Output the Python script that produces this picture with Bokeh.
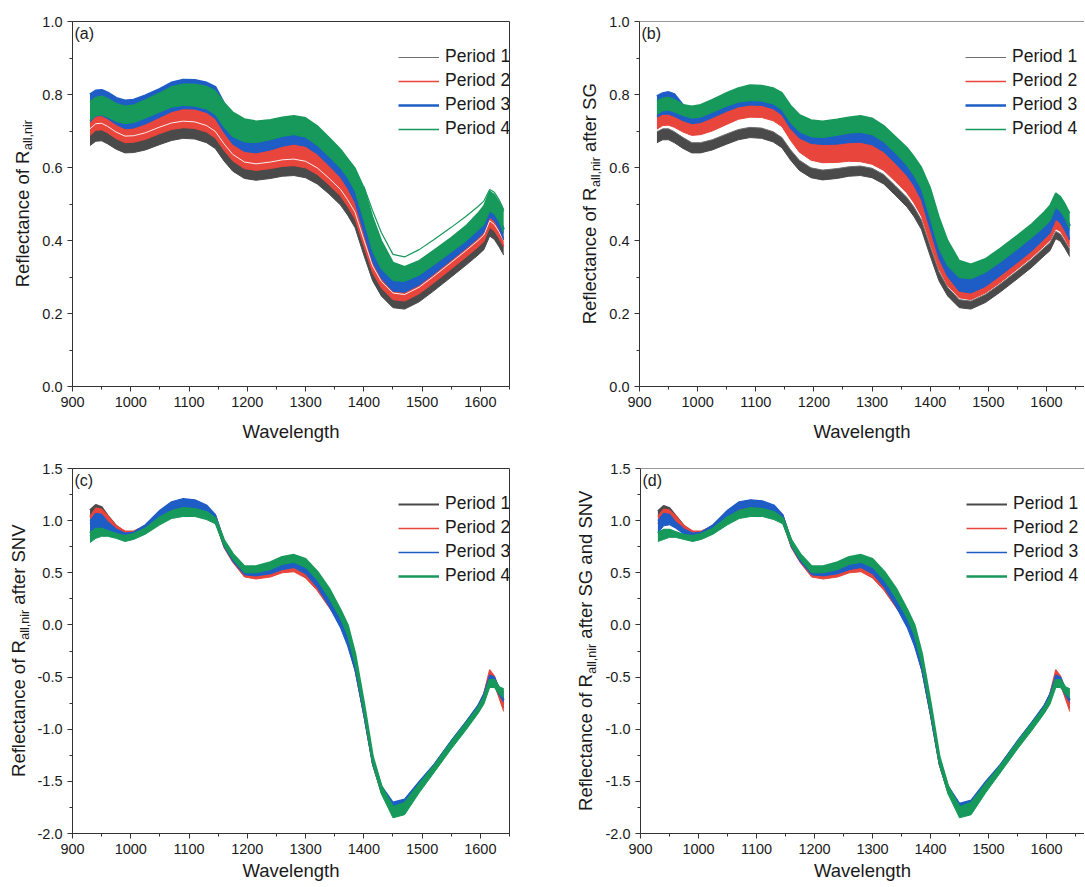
import math
from bokeh.plotting import figure
from bokeh.layouts import row, column
from bokeh.models import Label, Legend, LegendItem, Span, NumeralTickFormatter, FixedTicker, Range1d
from bokeh.embed import file_html
from bokeh.resources import INLINE

# ---------------- data ----------------
WAVE = [930, 940, 950, 960, 975, 990, 1005, 1025, 1050, 1070, 1090, 1110, 1130, 1145, 1160,
        1175, 1195, 1215, 1240, 1260, 1280, 1300, 1320, 1340, 1360, 1372, 1385, 1400, 1415, 1430,
        1450, 1470, 1495, 1520, 1550, 1575, 1596, 1606, 1616, 1624, 1632, 1640]
PERIODS = ["Period 1", "Period 2", "Period 3", "Period 4"]

# (a) raw reflectance, band lower / upper edges per period
A1_LO = [0.660, 0.672, 0.673, 0.665, 0.650, 0.640, 0.641, 0.648, 0.663, 0.674, 0.680, 0.678, 0.668, 0.652, 0.618,
         0.590, 0.570, 0.565, 0.570, 0.576, 0.578, 0.572, 0.555, 0.528, 0.497, 0.470, 0.435, 0.360, 0.290, 0.248,
         0.216, 0.212, 0.232, 0.262, 0.300, 0.332, 0.360, 0.375, 0.412, 0.403, 0.383, 0.360]
A1_HI = [0.692, 0.706, 0.707, 0.699, 0.683, 0.672, 0.673, 0.681, 0.697, 0.708, 0.713, 0.711, 0.701, 0.685, 0.651,
         0.622, 0.601, 0.596, 0.601, 0.607, 0.609, 0.603, 0.585, 0.557, 0.526, 0.498, 0.463, 0.388, 0.316, 0.274,
         0.242, 0.238, 0.258, 0.288, 0.326, 0.358, 0.386, 0.401, 0.440, 0.430, 0.410, 0.386]
A2_LO = [0.688, 0.702, 0.703, 0.695, 0.679, 0.668, 0.669, 0.677, 0.693, 0.704, 0.709, 0.707, 0.697, 0.681, 0.647,
         0.618, 0.597, 0.592, 0.597, 0.603, 0.605, 0.599, 0.581, 0.553, 0.522, 0.494, 0.459, 0.384, 0.312, 0.270,
         0.238, 0.234, 0.254, 0.284, 0.322, 0.354, 0.382, 0.397, 0.436, 0.426, 0.406, 0.382]
A2_HI = [0.728, 0.745, 0.746, 0.738, 0.722, 0.710, 0.712, 0.723, 0.742, 0.757, 0.765, 0.764, 0.755, 0.738, 0.700,
         0.668, 0.648, 0.644, 0.652, 0.662, 0.668, 0.662, 0.641, 0.610, 0.577, 0.548, 0.508, 0.425, 0.345, 0.300,
         0.265, 0.262, 0.282, 0.312, 0.350, 0.382, 0.410, 0.426, 0.468, 0.458, 0.436, 0.405]
# a white gap between individual spectra inside the Period 2 band of (a)
A2_GAP = [0.706, 0.720, 0.721, 0.713, 0.697, 0.686, 0.687, 0.695, 0.711, 0.722, 0.727, 0.725, 0.715, 0.699, 0.665,
          0.636, 0.615, 0.610, 0.615, 0.621, 0.623, 0.617, 0.599, 0.571, 0.540, 0.512, 0.477, 0.402, 0.330, 0.288,
          0.256, 0.252, 0.272, 0.302, 0.340, 0.372, 0.400, 0.415, 0.454, 0.444, 0.424, 0.400]
A3_LO = [0.724, 0.741, 0.742, 0.734, 0.718, 0.706, 0.708, 0.719, 0.738, 0.753, 0.761, 0.760, 0.751, 0.734, 0.696,
         0.664, 0.644, 0.640, 0.648, 0.658, 0.664, 0.658, 0.637, 0.606, 0.573, 0.544, 0.504, 0.421, 0.341, 0.296,
         0.261, 0.258, 0.278, 0.308, 0.346, 0.378, 0.406, 0.422, 0.464, 0.454, 0.432, 0.401]
A3_HI = [0.800, 0.810, 0.812, 0.805, 0.790, 0.783, 0.785, 0.797, 0.815, 0.832, 0.840, 0.839, 0.832, 0.820, 0.775,
         0.735, 0.710, 0.702, 0.706, 0.712, 0.716, 0.708, 0.688, 0.655, 0.622, 0.595, 0.555, 0.465, 0.380, 0.330,
         0.295, 0.292, 0.310, 0.340, 0.378, 0.410, 0.440, 0.455, 0.490, 0.482, 0.462, 0.430]
A4_LO = [0.728, 0.742, 0.744, 0.738, 0.726, 0.720, 0.723, 0.735, 0.752, 0.765, 0.770, 0.768, 0.760, 0.745, 0.710,
         0.684, 0.670, 0.668, 0.676, 0.685, 0.690, 0.683, 0.660, 0.630, 0.598, 0.572, 0.535, 0.455, 0.370, 0.322,
         0.290, 0.288, 0.305, 0.333, 0.368, 0.398, 0.428, 0.443, 0.480, 0.472, 0.452, 0.420]
A4_HI = [0.780, 0.792, 0.795, 0.789, 0.775, 0.768, 0.771, 0.785, 0.804, 0.821, 0.828, 0.828, 0.822, 0.810, 0.778,
         0.752, 0.733, 0.727, 0.731, 0.738, 0.742, 0.736, 0.714, 0.683, 0.650, 0.625, 0.598, 0.545, 0.465, 0.400,
         0.340, 0.328, 0.345, 0.373, 0.408, 0.440, 0.475, 0.495, 0.535, 0.525, 0.505, 0.480]
A4_OUT_WAVE = [1400, 1415, 1430, 1450, 1470, 1495, 1520, 1550, 1575, 1596, 1606, 1616, 1624, 1632, 1640]
A4_OUT = [0.548, 0.482, 0.422, 0.362, 0.355, 0.375, 0.402, 0.436, 0.466, 0.493, 0.508, 0.540, 0.532, 0.512, 0.485]

# (b) after SG
B1_LO = [0.668, 0.676, 0.676, 0.668, 0.652, 0.640, 0.640, 0.648, 0.664, 0.676, 0.682, 0.680, 0.670, 0.654, 0.620,
         0.592, 0.572, 0.566, 0.570, 0.576, 0.578, 0.572, 0.555, 0.524, 0.492, 0.466, 0.430, 0.358, 0.290, 0.248,
         0.216, 0.212, 0.230, 0.258, 0.295, 0.327, 0.358, 0.372, 0.405, 0.398, 0.378, 0.356]
B1_HI = [0.698, 0.706, 0.706, 0.698, 0.682, 0.668, 0.668, 0.676, 0.692, 0.704, 0.710, 0.708, 0.698, 0.682, 0.648,
         0.620, 0.599, 0.593, 0.597, 0.602, 0.604, 0.598, 0.581, 0.550, 0.518, 0.492, 0.456, 0.384, 0.315, 0.272,
         0.238, 0.234, 0.252, 0.280, 0.317, 0.349, 0.380, 0.394, 0.425, 0.418, 0.398, 0.376]
B2_LO = [0.705, 0.715, 0.716, 0.710, 0.697, 0.688, 0.690, 0.700, 0.718, 0.732, 0.738, 0.737, 0.728, 0.712, 0.674,
         0.642, 0.620, 0.613, 0.614, 0.617, 0.616, 0.609, 0.592, 0.562, 0.530, 0.503, 0.466, 0.392, 0.322, 0.277,
         0.243, 0.238, 0.256, 0.284, 0.322, 0.354, 0.385, 0.400, 0.432, 0.425, 0.404, 0.381]
B2_HI = [0.742, 0.750, 0.750, 0.744, 0.732, 0.724, 0.727, 0.740, 0.758, 0.770, 0.775, 0.774, 0.765, 0.748, 0.710,
         0.685, 0.670, 0.667, 0.668, 0.672, 0.673, 0.666, 0.647, 0.616, 0.582, 0.555, 0.515, 0.435, 0.355, 0.305,
         0.265, 0.260, 0.278, 0.307, 0.344, 0.376, 0.408, 0.424, 0.462, 0.452, 0.430, 0.405]
B3_LO = [0.738, 0.746, 0.746, 0.740, 0.728, 0.720, 0.723, 0.736, 0.754, 0.766, 0.771, 0.770, 0.761, 0.744, 0.706,
         0.681, 0.666, 0.663, 0.664, 0.668, 0.669, 0.662, 0.643, 0.612, 0.578, 0.551, 0.511, 0.431, 0.351, 0.301,
         0.261, 0.256, 0.274, 0.303, 0.340, 0.372, 0.404, 0.420, 0.458, 0.448, 0.426, 0.401]
B3_HI = [0.795, 0.803, 0.806, 0.800, 0.770, 0.762, 0.765, 0.778, 0.795, 0.806, 0.812, 0.810, 0.802, 0.788, 0.760,
         0.730, 0.712, 0.708, 0.712, 0.718, 0.722, 0.715, 0.695, 0.662, 0.628, 0.600, 0.560, 0.475, 0.390, 0.340,
         0.305, 0.300, 0.318, 0.348, 0.385, 0.418, 0.448, 0.465, 0.500, 0.490, 0.470, 0.440]
B4_LO = [0.745, 0.755, 0.757, 0.752, 0.742, 0.735, 0.738, 0.751, 0.768, 0.779, 0.783, 0.782, 0.774, 0.758, 0.722,
         0.698, 0.684, 0.682, 0.688, 0.694, 0.696, 0.690, 0.670, 0.640, 0.605, 0.578, 0.540, 0.460, 0.378, 0.330,
         0.298, 0.295, 0.312, 0.340, 0.376, 0.408, 0.437, 0.453, 0.490, 0.480, 0.460, 0.430]
B4_HI = [0.782, 0.790, 0.792, 0.786, 0.772, 0.768, 0.772, 0.786, 0.805, 0.818, 0.826, 0.825, 0.818, 0.805, 0.770,
         0.745, 0.730, 0.727, 0.732, 0.738, 0.742, 0.735, 0.715, 0.685, 0.655, 0.630, 0.600, 0.545, 0.465, 0.400,
         0.345, 0.335, 0.350, 0.378, 0.414, 0.446, 0.478, 0.496, 0.530, 0.520, 0.500, 0.475]

# (c) after SNV
C1_LO = [1.04, 1.10, 1.07, 0.99, 0.90, 0.86, 0.86, 0.91, 1.00, 1.06, 1.09, 1.08, 1.04, 0.99, 0.75,
         0.61, 0.47, 0.45, 0.47, 0.51, 0.52, 0.46, 0.34, 0.18, 0.02, -0.17, -0.43, -0.87, -1.34, -1.61,
         -1.79, -1.76, -1.58, -1.40, -1.17, -0.99, -0.83, -0.73, -0.54, -0.58, -0.69, -0.80]
C1_HI = [1.10, 1.15, 1.13, 1.05, 0.95, 0.89, 0.89, 0.95, 1.06, 1.13, 1.17, 1.16, 1.11, 1.05, 0.80,
         0.66, 0.52, 0.49, 0.52, 0.56, 0.57, 0.52, 0.41, 0.26, 0.09, -0.08, -0.34, -0.79, -1.28, -1.55,
         -1.73, -1.70, -1.52, -1.35, -1.12, -0.94, -0.78, -0.67, -0.48, -0.51, -0.62, -0.72]
C2_LO = [0.97, 1.05, 1.05, 0.99, 0.90, 0.86, 0.86, 0.91, 1.00, 1.06, 1.09, 1.08, 1.04, 0.99, 0.74,
         0.60, 0.46, 0.44, 0.46, 0.50, 0.51, 0.45, 0.33, 0.17, 0.01, -0.18, -0.44, -0.87, -1.34, -1.61,
         -1.79, -1.76, -1.58, -1.40, -1.17, -0.99, -0.84, -0.72, -0.50, -0.56, -0.70, -0.83]
C2_HI = [1.04, 1.12, 1.11, 1.05, 0.95, 0.90, 0.90, 0.95, 1.07, 1.14, 1.18, 1.17, 1.12, 1.05, 0.80,
         0.66, 0.52, 0.49, 0.52, 0.55, 0.56, 0.51, 0.40, 0.25, 0.08, -0.08, -0.34, -0.79, -1.28, -1.55,
         -1.73, -1.70, -1.52, -1.35, -1.12, -0.94, -0.79, -0.66, -0.43, -0.49, -0.62, -0.76]
C3_LO = [0.86, 0.92, 0.93, 0.91, 0.86, 0.84, 0.85, 0.91, 1.02, 1.10, 1.12, 1.11, 1.07, 1.00, 0.75,
         0.61, 0.48, 0.47, 0.49, 0.53, 0.55, 0.49, 0.36, 0.18, -0.03, -0.20, -0.44, -0.87, -1.34, -1.60,
         -1.76, -1.73, -1.56, -1.39, -1.16, -0.98, -0.82, -0.72, -0.54, -0.57, -0.67, -0.74]
C3_HI = [1.00, 1.07, 1.06, 0.99, 0.92, 0.88, 0.89, 0.96, 1.10, 1.18, 1.21, 1.20, 1.15, 1.06, 0.81,
         0.67, 0.54, 0.52, 0.55, 0.60, 0.62, 0.58, 0.46, 0.30, 0.10, -0.05, -0.31, -0.77, -1.27, -1.54,
         -1.70, -1.67, -1.50, -1.34, -1.11, -0.93, -0.77, -0.66, -0.48, -0.50, -0.60, -0.64]
C4_LO = [0.79, 0.83, 0.85, 0.85, 0.83, 0.80, 0.82, 0.87, 0.96, 1.02, 1.04, 1.04, 1.01, 0.97, 0.76,
         0.63, 0.50, 0.50, 0.53, 0.58, 0.60, 0.55, 0.43, 0.26, 0.06, -0.10, -0.38, -0.84, -1.33, -1.62,
         -1.85, -1.82, -1.61, -1.42, -1.19, -1.01, -0.85, -0.76, -0.60, -0.60, -0.66, -0.70]
C4_HI = [0.88, 0.92, 0.92, 0.90, 0.87, 0.85, 0.87, 0.92, 1.03, 1.09, 1.12, 1.11, 1.08, 1.02, 0.81,
         0.68, 0.56, 0.56, 0.60, 0.65, 0.67, 0.63, 0.51, 0.35, 0.14, 0.00, -0.28, -0.75, -1.26, -1.55,
         -1.75, -1.71, -1.53, -1.36, -1.13, -0.95, -0.80, -0.70, -0.53, -0.53, -0.60, -0.62]

# (d) after SG and SNV
D1_LO = [1.04, 1.09, 1.07, 0.99, 0.90, 0.86, 0.86, 0.91, 1.00, 1.06, 1.09, 1.08, 1.04, 0.99, 0.75,
         0.61, 0.47, 0.45, 0.47, 0.51, 0.52, 0.46, 0.34, 0.18, 0.02, -0.17, -0.43, -0.87, -1.34, -1.61,
         -1.79, -1.76, -1.58, -1.40, -1.17, -0.99, -0.83, -0.73, -0.54, -0.58, -0.69, -0.80]
D1_HI = [1.09, 1.14, 1.12, 1.05, 0.95, 0.89, 0.89, 0.95, 1.06, 1.13, 1.17, 1.16, 1.11, 1.05, 0.80,
         0.66, 0.52, 0.49, 0.52, 0.56, 0.57, 0.52, 0.41, 0.26, 0.09, -0.08, -0.34, -0.79, -1.28, -1.55,
         -1.73, -1.70, -1.52, -1.35, -1.12, -0.94, -0.78, -0.67, -0.48, -0.51, -0.62, -0.72]
D2_LO = [0.97, 1.05, 1.05, 0.99, 0.90, 0.86, 0.86, 0.91, 1.00, 1.06, 1.09, 1.08, 1.04, 0.99, 0.74,
         0.60, 0.46, 0.44, 0.46, 0.50, 0.51, 0.45, 0.33, 0.17, 0.01, -0.18, -0.44, -0.87, -1.34, -1.61,
         -1.79, -1.76, -1.58, -1.40, -1.17, -0.99, -0.84, -0.72, -0.50, -0.56, -0.70, -0.83]
D2_HI = [1.04, 1.11, 1.10, 1.05, 0.95, 0.90, 0.90, 0.95, 1.07, 1.14, 1.18, 1.17, 1.12, 1.05, 0.80,
         0.66, 0.52, 0.49, 0.52, 0.55, 0.56, 0.51, 0.40, 0.25, 0.08, -0.08, -0.34, -0.79, -1.28, -1.55,
         -1.73, -1.70, -1.52, -1.35, -1.12, -0.94, -0.79, -0.66, -0.43, -0.49, -0.62, -0.76]
D3_LO = [0.88, 0.95, 0.96, 0.93, 0.87, 0.84, 0.85, 0.91, 1.03, 1.11, 1.13, 1.12, 1.08, 1.00, 0.75,
         0.61, 0.48, 0.47, 0.49, 0.53, 0.55, 0.49, 0.36, 0.18, -0.03, -0.20, -0.44, -0.87, -1.34, -1.60,
         -1.76, -1.73, -1.56, -1.39, -1.16, -0.98, -0.82, -0.72, -0.54, -0.57, -0.67, -0.74]
D3_HI = [1.00, 1.07, 1.06, 0.99, 0.92, 0.88, 0.89, 0.96, 1.10, 1.18, 1.20, 1.19, 1.15, 1.06, 0.81,
         0.67, 0.54, 0.52, 0.55, 0.60, 0.62, 0.58, 0.46, 0.30, 0.10, -0.05, -0.31, -0.77, -1.27, -1.54,
         -1.71, -1.68, -1.50, -1.34, -1.11, -0.93, -0.77, -0.66, -0.48, -0.50, -0.60, -0.64]
D4_LO = [0.80, 0.82, 0.84, 0.84, 0.82, 0.80, 0.82, 0.87, 0.96, 1.02, 1.04, 1.04, 1.01, 0.97, 0.76,
         0.63, 0.50, 0.50, 0.53, 0.58, 0.60, 0.55, 0.43, 0.26, 0.06, -0.10, -0.38, -0.84, -1.33, -1.62,
         -1.85, -1.82, -1.61, -1.42, -1.19, -1.01, -0.85, -0.76, -0.60, -0.60, -0.66, -0.70]
D4_HI = [0.88, 0.91, 0.91, 0.89, 0.86, 0.85, 0.87, 0.92, 1.03, 1.09, 1.12, 1.11, 1.08, 1.02, 0.81,
         0.68, 0.56, 0.56, 0.60, 0.65, 0.67, 0.63, 0.51, 0.35, 0.14, 0.00, -0.28, -0.75, -1.26, -1.55,
         -1.75, -1.71, -1.53, -1.36, -1.13, -0.95, -0.80, -0.70, -0.53, -0.53, -0.60, -0.62]

X_TICKS = [900, 1000, 1100, 1200, 1300, 1400, 1500, 1600]
X_MINOR = [950, 1050, 1150, 1250, 1350, 1450, 1550, 1650]
Y_TICKS_AB = [0.0, 0.2, 0.4, 0.6, 0.8, 1.0]
Y_MINOR_AB = [0.1, 0.3, 0.5, 0.7, 0.9]
Y_TICKS_CD = [-2.0, -1.5, -1.0, -0.5, 0.0, 0.5, 1.0, 1.5]
Y_MINOR_CD = [-1.75, -1.25, -0.75, -0.25, 0.25, 0.75, 1.25]

# ---------------- styling ----------------
FONT = "Liberation Sans"
TXT = "#1a1a1a"
AX = "#333333"
BAND = ["#4a4a4a", "#e8453c", "#1e5cc6", "#16995a"]
LEG_W_AB = [1, 1.5, 2.5, 1.5]
LEG_W_CD = [2, 1.3, 1.3, 2.5]
FRAME_H = 365
PX_PER_NM = 437 / 750.0


def make_panel(letter, bands, yr, yt, ym, right, bottom, leg_w, mbl, outlier=None, gaps=()):
    if right:
        frame_w, mbr = 446, 0
    else:
        frame_w, mbr = 437, 47
    width = mbl + frame_w + mbr
    if bottom:
        height, mbt, mbb = 439, 20, 54
    else:
        height, mbt, mbb = 448, 21, 62
    xend = 900 + frame_w / PX_PER_NM
    p = figure(width=width, height=height, x_range=Range1d(900, xend), y_range=Range1d(*yr),
               output_backend="svg", toolbar_location=None,
               min_border_left=mbl, min_border_right=mbr, min_border_top=mbt, min_border_bottom=mbb)
    p.grid.visible = False
    p.background_fill_color = "white"
    p.border_fill_color = "white"
    if right:
        p.outline_line_color = None
        p.add_layout(Span(location=yr[1], dimension="width", line_color=AX, line_width=1))
    else:
        p.outline_line_color = AX
        p.outline_line_width = 1

    p.xaxis.ticker = FixedTicker(ticks=X_TICKS, minor_ticks=X_MINOR)
    p.yaxis.ticker = FixedTicker(ticks=yt, minor_ticks=ym)
    p.yaxis.formatter = NumeralTickFormatter(format="0.0")
    for ax in (p.xaxis[0], p.yaxis[0]):
        ax.axis_line_color = AX
        ax.major_tick_line_color = AX
        ax.minor_tick_line_color = AX
        ax.major_tick_in = 0
        ax.major_tick_out = 5
        ax.minor_tick_in = 0
        ax.minor_tick_out = 3
        ax.major_label_text_font = FONT
        ax.major_label_text_font_size = "14.5px"
        ax.major_label_text_color = TXT
    p.xaxis.major_label_standoff = 5
    p.yaxis.major_label_standoff = 5
    p.xaxis.axis_label = "Wavelength"
    p.xaxis.axis_label_text_font = FONT
    p.xaxis.axis_label_text_font_size = "18.5px"
    p.xaxis.axis_label_text_font_style = "normal"
    p.xaxis.axis_label_text_color = TXT
    p.xaxis.axis_label_standoff = 3 if bottom else 11

    legend_renderers = []
    for k, (lo, hi) in enumerate(bands):
        c = BAND[k]
        p.varea(x=WAVE, y1=lo, y2=hi, fill_color=c, fill_alpha=1.0)
        p.line(WAVE, lo, line_color=c, line_width=1)
        edge_col = "#6e6e6e" if (k == 0 and not bottom) else c
        r = p.line(WAVE, hi, line_color=edge_col, line_width=leg_w[k])
        legend_renderers.append(r)
        for gk, gy in gaps:
            if gk == k:
                p.line(WAVE, gy, line_color="white", line_width=1, line_alpha=0.9)
    if outlier is not None:
        p.line(outlier[0], outlier[1], line_color=BAND[3], line_width=1.2)

    items = [LegendItem(label=PERIODS[k], renderers=[legend_renderers[k]]) for k in range(4)]
    leg = Legend(items=items, location=(326, 247))
    leg.border_line_color = None
    leg.background_fill_alpha = 0
    leg.padding = 0
    leg.margin = 0
    leg.spacing = 3
    leg.glyph_width = 41
    leg.glyph_height = 20
    leg.label_height = 20
    leg.label_standoff = 6
    leg.label_text_font = FONT
    leg.label_text_font_size = "17.5px"
    leg.label_text_color = TXT
    p.add_layout(leg)

    p.add_layout(Label(x=2, y=FRAME_H - 3, x_units="screen", y_units="screen", text="(" + letter + ")",
                       text_font=FONT, text_font_size="16px", text_color=TXT,
                       text_baseline="top", text_align="left"))
    return p


def ylabel_fig(width, height, xc, suffix):
    """Narrow figure holding the rotated y-axis title with its subscript.
    Its frame lines up with the neighbouring panel's frame (365 px high)."""
    f = figure(width=width, height=height, x_range=Range1d(0, width), y_range=Range1d(0, FRAME_H),
               output_backend="svg", toolbar_location=None, x_axis_location=None, y_axis_location=None,
               min_border_left=0, min_border_right=0, min_border_top=0, min_border_bottom=0)
    f.grid.visible = False
    f.outline_line_color = None
    f.background_fill_color = "white"
    f.border_fill_color = "white"
    main_fs, sub_fs = 18.5, 12.5
    w_main = 7.392 * main_fs
    w_sub = 2.389 * sub_fs
    w_space = 0.278 * main_fs
    widths = {"": 0.0, "after SG": 3.724, "after SNV": 4.335, "after SG and SNV": 8.004}
    w_suf = (w_space + widths[suffix] * main_fs) if suffix else 0.0
    total = w_main + w_sub + w_suf
    y0 = FRAME_H / 2.0 - total / 2.0
    common = dict(x_units="screen", y_units="screen", angle=math.pi / 2, text_font=FONT,
                  text_color=TXT, text_align="left", text_baseline="middle")
    f.add_layout(Label(x=xc, y=y0, text="Reflectance of R", text_font_size=f"{main_fs}px", **common))
    f.add_layout(Label(x=xc + 6, y=y0 + w_main + 0.5, text="all,nir", text_font_size=f"{sub_fs}px", **common))
    if suffix:
        f.add_layout(Label(x=xc, y=y0 + w_main + w_sub + w_space + 0.5, text=suffix,
                           text_font_size=f"{main_fs}px", **common))
    return f


pa = make_panel("a", [(A1_LO, A1_HI), (A2_LO, A2_HI), (A3_LO, A3_HI), (A4_LO, A4_HI)],
                (0.0, 1.0), Y_TICKS_AB, Y_MINOR_AB, False, False, LEG_W_AB, 34,
                outlier=(A4_OUT_WAVE, A4_OUT), gaps=[(1, A2_GAP)])
pb = make_panel("b", [(B1_LO, B1_HI), (B2_LO, B2_HI), (B3_LO, B3_HI), (B4_LO, B4_HI)],
                (0.0, 1.0), Y_TICKS_AB, Y_MINOR_AB, True, False, LEG_W_AB, 32)
pc = make_panel("c", [(C1_LO, C1_HI), (C2_LO, C2_HI), (C3_LO, C3_HI), (C4_LO, C4_HI)],
                (-2.0, 1.5), Y_TICKS_CD, Y_MINOR_CD, False, True, LEG_W_CD, 38)
pd = make_panel("d", [(D1_LO, D1_HI), (D2_LO, D2_HI), (D3_LO, D3_HI), (D4_LO, D4_HI)],
                (-2.0, 1.5), Y_TICKS_CD, Y_MINOR_CD, True, True, LEG_W_CD, 36)

la = ylabel_fig(38, 448, 21.7, "")
lb = ylabel_fig(50, 448, 33, "after SG")
lc = ylabel_fig(34, 439, 18, "after SNV")
ld = ylabel_fig(46, 439, 29, "after SG and SNV")

layout = column(row(la, pa, lb, pb), row(lc, pc, ld, pd))
open("out.html", "w").write(file_html(layout, INLINE))
